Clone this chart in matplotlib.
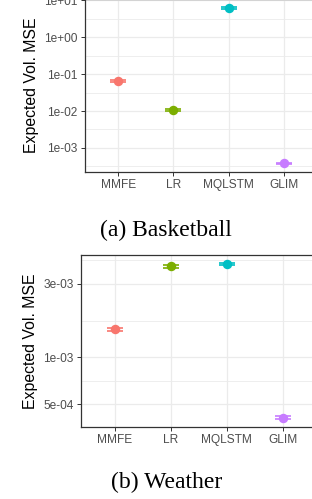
import numpy as np
import matplotlib

matplotlib.use("Agg")
import matplotlib.pyplot as plt
from matplotlib.ticker import FixedLocator, NullFormatter

# models and colours (ggplot default hue palette)
models = ["MMFE", "LR", "MQLSTM", "GLIM"]
colors = ["#F8766D", "#7CAE00", "#00BFC4", "#C77CFF"]

# (a) Basketball
bball_mse = [0.066, 0.0105, 6.3, 3.8e-4]
bball_err = [0.003, 0.0006, 0.35, 0.2e-4]
bball_ticks = [1e-3, 1e-2, 1e-1, 1e0, 1e1]
bball_labels = ["1e-03", "1e-02", "1e-01", "1e+00", "1e+01"]

# (b) Weather
weather_mse = [1.52e-3, 3.88e-3, 4.02e-3, 4.1e-4]
weather_err = [0.04e-3, 0.08e-3, 0.08e-3, 0.1e-4]
weather_ticks = [5e-4, 1e-3, 3e-3]
weather_labels = ["5e-04", "1e-03", "3e-03"]

plt.rcParams["font.family"] = ["Liberation Sans", "DejaVu Sans"]

fig = plt.figure(figsize=(3.12, 4.99), dpi=100)
ax1 = fig.add_axes([0.272, 0.655, 0.745, 0.347])
ax2 = fig.add_axes([0.2596, 0.1443, 0.7554, 0.3453])


def minor_breaks(ticks):
    # ggplot-style minor breaks, midway in log space
    b = list(np.log10(ticks))
    bd = b[1] - b[0]
    b = [b[0] - bd] + b + [b[-1] + bd]
    return [10 ** ((b[i] + b[i + 1]) / 2) for i in range(len(b) - 1)]


def draw(ax, values, errs, ticks, labels):
    x = np.arange(len(models))
    for i in range(len(models)):
        ax.errorbar(x[i], values[i], yerr=errs[i], fmt="o", color=colors[i],
                    markersize=5.8, capsize=5.8, elinewidth=1.2, capthick=1.2,
                    zorder=3)
    ax.set_yscale("log")
    lo = np.log10(np.array(values) - np.array(errs)).min()
    hi = np.log10(np.array(values) + np.array(errs)).max()
    pad = (hi - lo) * 0.05
    ax.set_ylim(10 ** (lo - pad), 10 ** (hi + pad))
    ax.set_xlim(-0.6, len(models) - 0.4)
    ax.set_xticks(x)
    ax.set_xticklabels(models)
    ax.yaxis.set_major_locator(FixedLocator(ticks))
    ax.set_yticklabels(labels)
    ax.yaxis.set_minor_locator(FixedLocator(minor_breaks(ticks)))
    ax.yaxis.set_minor_formatter(NullFormatter())
    ax.tick_params(axis="y", which="minor", length=0)
    ax.tick_params(which="major", length=3.2, width=0.7, color="#333333",
                   labelcolor="#4D4D4D", labelsize=8.6, pad=2)
    ax.grid(which="major", color="#EBEBEB", linewidth=0.9)
    ax.grid(which="minor", axis="y", color="#EBEBEB", linewidth=0.6)
    ax.set_axisbelow(True)
    for s in ax.spines.values():
        s.set_color("#333333")
        s.set_linewidth(0.9)
    ax.set_ylabel("Expected Vol. MSE", fontsize=11.4, labelpad=4)


draw(ax1, bball_mse, bball_err, bball_ticks, bball_labels)
draw(ax2, weather_mse, weather_err, weather_ticks, weather_labels)

fig.text(0.532, 1 - 230 / 499, "(a) Basketball", ha="center", va="center",
         fontsize=17, family="Liberation Serif")
fig.text(0.535, 1 - 482 / 499, "(b) Weather", ha="center", va="center",
         fontsize=17, family="Liberation Serif")

fig.savefig("out.png", dpi=100)
